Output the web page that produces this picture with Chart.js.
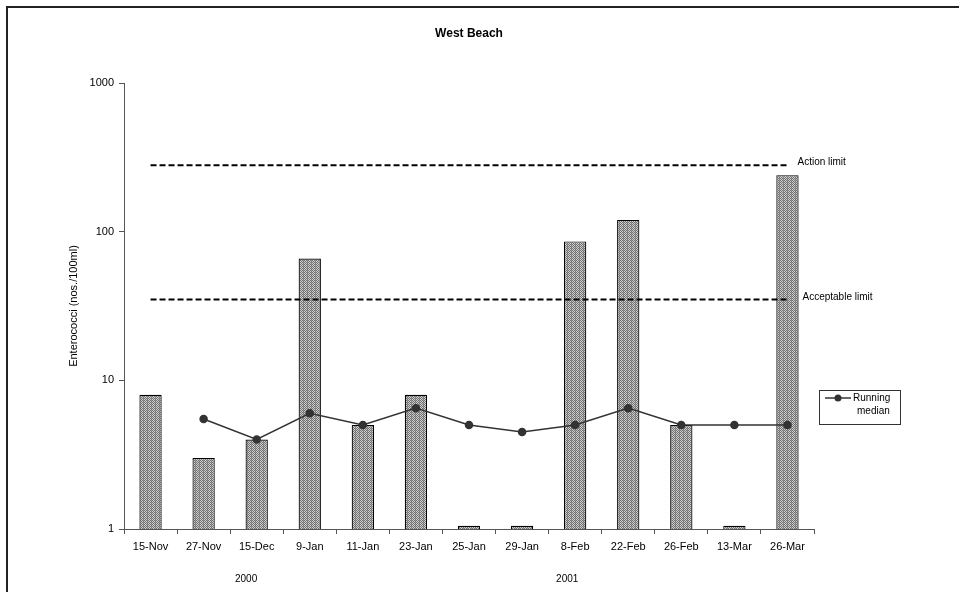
<!DOCTYPE html>
<html>
<head>
<meta charset="utf-8">
<script src="https://cdn.jsdelivr.net/npm/chart.js@4/dist/chart.umd.min.js"></script>
<style>
html,body{margin:0;padding:0;background:#fff;}
#wrap{position:relative;width:959px;height:592px;}
</style>
</head>
<body>
<div id="wrap"><canvas id="c" width="959" height="592"></canvas></div>
<script>
const categories = ['15-Nov','27-Nov','15-Dec','9-Jan','11-Jan','23-Jan','25-Jan','29-Jan','8-Feb','22-Feb','26-Feb','13-Mar','26-Mar'];
const enterococci = [8, 3, 4, 66, 5, 8, 1.05, 1.05, 86, 120, 5, 1.05, 240];
const runningMedian = [null, 5.5, 4, 6, 5, 6.5, 5, 4.5, 5, 6.5, 5, 5, 5];
const actionLimit = 280;
const acceptableLimit = 35;
const yTicks = [1, 10, 100, 1000];
const yearLabels = ['2000', '2001'];
const yearPositions = [1.8, 7.85]; // category index where each year label sits
const chartTitle = 'West Beach';
const yTitle = 'Enterococci (nos./100ml)';

const FONT = '"Liberation Sans", Arial, sans-serif';

// checkered bar fill
const pc = document.createElement('canvas');
pc.width = 4; pc.height = 2;
const pctx = pc.getContext('2d');
pctx.fillStyle = '#d0d0d0'; pctx.fillRect(0,0,4,2);
pctx.fillStyle = '#707070';
pctx.fillRect(0,0,1,1); pctx.fillRect(1,1,1,1); pctx.fillRect(2,0,1,1); pctx.fillRect(3,1,1,1);
pctx.fillStyle = '#9a9a9a'; pctx.fillRect(3,0,1,1);
const barPattern = pctx.createPattern(pc, 'repeat');

const decorPlugin = {
  id: 'decor',
  beforeDraw(chart) {
    const ctx = chart.ctx;
    ctx.save();
    ctx.strokeStyle = '#222';
    ctx.lineWidth = 2;
    ctx.beginPath();
    ctx.moveTo(7, 592); ctx.lineTo(7, 7); ctx.lineTo(959, 7);
    ctx.stroke();
    ctx.restore();
  },
  afterDraw(chart) {
    const ctx = chart.ctx;
    const ca = chart.chartArea;
    const xs = chart.scales.x, ys = chart.scales.y;
    ctx.save();
    // title
    ctx.fillStyle = '#000';
    ctx.font = 'bold 12px ' + FONT;
    ctx.textAlign = 'center'; ctx.textBaseline = 'middle';
    ctx.fillText(chartTitle, (ca.left + ca.right) / 2, 34);
    // limit labels
    ctx.font = '10px ' + FONT;
    ctx.textAlign = 'left';
    const lastX = xs.getPixelForValue(categories.length - 1);
    ctx.fillText('Action limit', lastX + 10, ys.getPixelForValue(actionLimit) - 3);
    ctx.fillText('Acceptable limit', lastX + 15, ys.getPixelForValue(acceptableLimit) - 2);
    // year labels
    ctx.font = '10px ' + FONT;
    ctx.textAlign = 'center';
    yearLabels.forEach((t, i) => {
      const p = yearPositions[i];
      const x0 = xs.getPixelForValue(Math.floor(p));
      const x1 = xs.getPixelForValue(Math.floor(p) + 1);
      ctx.fillText(t, x0 + (x1 - x0) * (p - Math.floor(p)), 579);
    });
    // legend
    const lx = 819, ly = 390, lw = 81, lh = 34;
    ctx.fillStyle = '#fff';
    ctx.fillRect(lx, ly, lw, lh);
    ctx.strokeStyle = '#333'; ctx.lineWidth = 1;
    ctx.strokeRect(lx + 0.5, ly + 0.5, lw, lh);
    ctx.strokeStyle = '#333'; ctx.lineWidth = 1.5;
    ctx.beginPath(); ctx.moveTo(825, 398); ctx.lineTo(851, 398); ctx.stroke();
    ctx.fillStyle = '#333';
    ctx.beginPath(); ctx.arc(838, 398, 3.5, 0, Math.PI * 2); ctx.fill();
    ctx.fillStyle = '#000';
    ctx.font = '10px ' + FONT;
    ctx.textAlign = 'left';
    ctx.fillText('Running', 853, 398);
    ctx.fillText('median', 857, 411);
    ctx.restore();
  }
};

new Chart(document.getElementById('c'), {
  data: {
    labels: categories,
    datasets: [
      {
        type: 'line', label: 'Action limit',
        data: categories.map(() => actionLimit),
        borderColor: '#000', borderWidth: 2, borderDash: [6, 3],
        pointRadius: 0, fill: false, order: 1
      },
      {
        type: 'line', label: 'Acceptable limit',
        data: categories.map(() => acceptableLimit),
        borderColor: '#000', borderWidth: 2, borderDash: [6, 3],
        pointRadius: 0, fill: false, order: 1
      },
      {
        type: 'line', label: 'Running median',
        data: runningMedian,
        borderColor: '#333', borderWidth: 1.5,
        pointRadius: 3.5, pointBackgroundColor: '#333', pointBorderColor: '#333',
        spanGaps: false, fill: false, order: 0
      },
      {
        type: 'bar', label: 'Enterococci',
        data: enterococci,
        backgroundColor: barPattern,
        borderColor: '#000', borderWidth: 1.2,
        barPercentage: 0.42, categoryPercentage: 1,
        order: 2
      }
    ]
  },
  options: {
    responsive: false,
    animation: false,
    layout: { padding: { left: 60, right: 145, top: 83, bottom: 0 } },
    plugins: { legend: { display: false }, title: { display: false }, tooltip: { enabled: false } },
    scales: {
      x: {
        type: 'category',
        offset: true,
        grid: { offset: true, drawOnChartArea: false, drawTicks: true, tickLength: 5, color: '#555' },
        border: { display: true, color: '#555', width: 1 },
        ticks: { color: '#000', font: { family: FONT, size: 11 }, padding: 6, maxRotation: 0, autoSkip: false },
        afterFit(s) { s.height = 63; }
      },
      y: {
        type: 'logarithmic',
        min: 1, max: 1000,
        grid: { drawOnChartArea: false, drawTicks: true, tickLength: 5, color: '#555' },
        border: { display: true, color: '#555', width: 1 },
        afterBuildTicks(s) { s.ticks = yTicks.map(v => ({ value: v })); },
        ticks: { color: '#000', font: { family: FONT, size: 11 }, padding: 5, callback: v => String(v) },
        title: { display: true, text: yTitle, color: '#000', font: { family: FONT, size: 11 }, padding: { top: 7, bottom: 0 } },
        afterFit(s) { s.width = 64; }
      }
    }
  },
  plugins: [decorPlugin]
});
</script>
</body>
</html>
